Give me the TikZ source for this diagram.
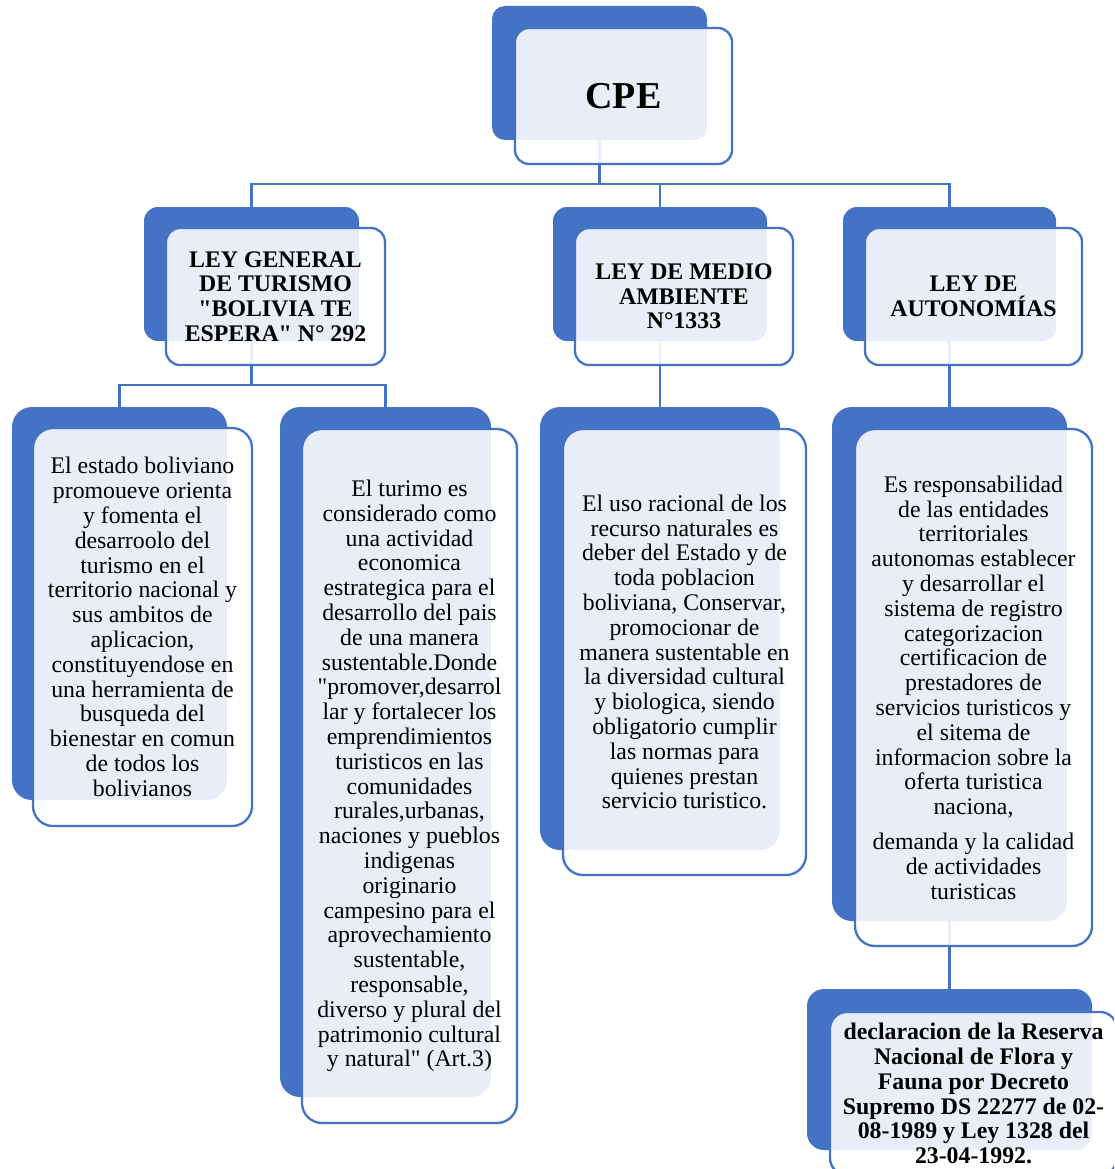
\documentclass[tikz,border=0pt]{standalone}
\usepackage{fontspec}
\setmainfont{Liberation Serif}[Ligatures=TeXOff]
\definecolor{accent}{HTML}{4472C4}
\tikzset{
  backbox/.style={fill=accent, draw=none, rounded corners=#1, inner sep=0pt},
  backbox/.default=20,
  frontbox/.style={fill=white, fill opacity=0.88, text opacity=1, draw=accent, draw opacity=1,
    line width=2.3pt, rounded corners=#1, inner sep=0pt, align=center, text=black},
  frontbox/.default=20,
  conn/.style={draw=accent, line width=2.3pt},
  bodytext/.style={font=\fontsize{23.8}{24.8}\selectfont},
  titletext/.style={font=\fontsize{23.8}{24.7}\selectfont\bfseries},
}
\begin{document}
\begin{tikzpicture}[x=1pt,y=-1pt]
\clip (0,0) rectangle (1114,1169);
\fill[white] (0,0) rectangle (1114,1169);
% back boxes
\node[backbox=13, minimum width=215, minimum height=134] (cpeB) at (599.5,73) {};
\node[backbox=14, minimum width=215, minimum height=134] (gtB) at (251.5,274) {};
\node[backbox=14, minimum width=214, minimum height=134] (maB) at (660,274) {};
\node[backbox=14, minimum width=213, minimum height=134] (auB) at (949.5,274) {};
\node[backbox=20, minimum width=215, minimum height=393] (aB) at (119.5,603.5) {};
\node[backbox=20, minimum width=211, minimum height=690] (bB) at (385.5,752) {};
\node[backbox=20, minimum width=240, minimum height=443] (cB) at (660,628.5) {};
\node[backbox=20, minimum width=235, minimum height=514] (dB) at (949.5,664) {};
\node[backbox=17, minimum width=285, minimum height=161] (eB) at (949.5,1069.5) {};
% connectors
\coordinate (j0) at (599.5,184);
\coordinate (j1) at (251.5,385);
\draw[conn] (cpeB.south) -- (j0);
\draw[conn] (gtB.north) |- (j0) -| (auB.north);
\draw[conn] (maB.north |- j0) -- (maB.north);
\draw[conn] (gtB.south) -- (j1);
\draw[conn] (aB.north) |- (j1) -| (bB.north);
\draw[conn] (maB.south) -- (cB.north);
\draw[conn] (auB.south) -- (dB.north);
\draw[conn] (dB.south) -- (eB.north);
% front boxes
\node[frontbox=14, minimum width=217, minimum height=136, font=\fontsize{38}{40}\selectfont\bfseries] (cpe) at (623.5,96) {CPE};
\node[frontbox=14, minimum width=219, minimum height=137, titletext] (gt) at (275.5,296.5)
  {LEY GENERAL\\DE TURISMO\\"BOLIVIA TE\\ESPERA" N° 292};
\node[frontbox=14, minimum width=218, minimum height=137, titletext] (ma) at (684,296.5)
  {LEY DE MEDIO\\AMBIENTE\\N°1333};
\node[frontbox=14, minimum width=217, minimum height=137, titletext] (au) at (973.5,296.5)
  {LEY DE\\AUTONOMÍAS};
\node[frontbox=20, minimum width=219, minimum height=398, bodytext] (a) at (142.5,627)
  {El estado boliviano\\promoueve orienta\\y fomenta el\\desarroolo del\\turismo en el\\territorio nacional y\\sus ambitos de\\aplicacion,\\constituyendose en\\una herramienta de\\busqueda del\\bienestar en comun\\de todos los\\bolivianos};
\node[frontbox=20, minimum width=215, minimum height=694, bodytext] (b) at (409.5,776)
  {El turimo es\\considerado como\\una actividad\\economica\\estrategica para el\\desarrollo del pais\\de una manera\\sustentable.Donde\\"promover,desarrol\\lar y fortalecer los\\emprendimientos\\turisticos en las\\comunidades\\rurales,urbanas,\\naciones y pueblos\\indigenas\\originario\\campesino para el\\aprovechamiento\\sustentable,\\responsable,\\diverso y plural del\\patrimonio cultural\\y natural" (Art.3)};
\node[frontbox=20, minimum width=243, minimum height=446, bodytext] (c) at (684.5,652)
  {El uso racional de los\\recurso naturales es\\deber del Estado y de\\toda poblacion\\boliviana, Conservar,\\promocionar de\\manera sustentable en\\la diversidad cultural\\y biologica, siendo\\obligatorio cumplir\\las normas para\\quienes prestan\\servicio turistico.};
\node[frontbox=20, minimum width=237, minimum height=517, bodytext] (d) at (973.5,687.5)
  {Es responsabilidad\\de las entidades\\territoriales\\autonomas establecer\\y desarrollar el\\sistema de registro\\categorizacion\\certificacion de\\prestadores de\\servicios turisticos y\\el sitema de\\informacion sobre la\\oferta turistica\\naciona,\\[10pt]demanda y la calidad\\de actividades\\turisticas};
\node[frontbox=17, minimum width=287, minimum height=163, font=\fontsize{23.8}{24.8}\selectfont\bfseries] (e) at (973.5,1093.5)
  {declaracion de la Reserva\\Nacional de Flora y\\Fauna por Decreto\\Supremo DS 22277 de 02-\\08-1989 y Ley 1328 del\\23-04-1992.};
\end{tikzpicture}
\end{document}
